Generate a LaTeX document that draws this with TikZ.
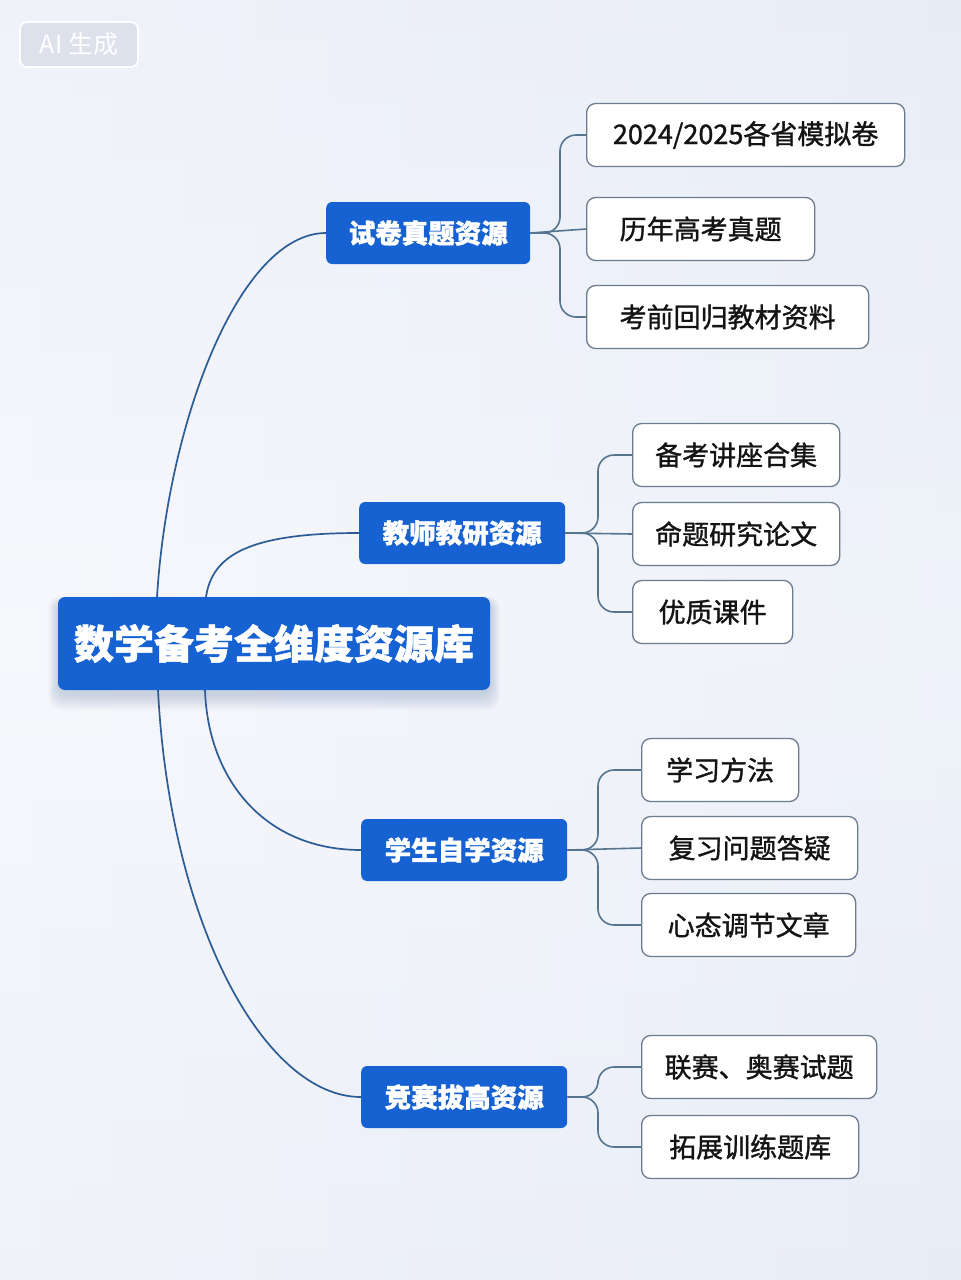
\documentclass[tikz,border=0pt]{standalone}
\usepackage{fontspec}
\setmainfont{Noto Sans CJK SC}
\newfontfamily\leaffont[FakeBold=1.2]{Noto Sans CJK SC}
\newfontfamily\heavyfont[BoldFeatures={FakeBold=1.3}]{Noto Sans CJK SC}
\definecolor{bgA}{HTML}{EBEEF8}
\definecolor{bgB}{HTML}{F7F8FC}
\definecolor{bgC}{HTML}{E4EBF6}
\definecolor{mainblue}{HTML}{1762D2}
\definecolor{linkblue}{HTML}{2C5C96}
\definecolor{leafline}{HTML}{557590}
\definecolor{leafborder}{HTML}{6C7C8E}
\definecolor{badgefill}{HTML}{DDE1EC}
\tikzset{
  x=1pt, y=-1pt,
  rootbox/.style={rectangle, rounded corners=7pt, fill=mainblue, text=white,
    font=\heavyfont\fontsize{40}{44}\selectfont\bfseries, minimum width=432pt, minimum height=93pt,
    inner sep=0pt},
  branchbox/.style={rectangle, rounded corners=6pt, fill=mainblue, text=white,
    font=\heavyfont\fontsize{26.5}{30}\selectfont\bfseries, minimum height=62pt, inner sep=0pt, anchor=west},
  leafbox/.style={rectangle, rounded corners=9pt, fill=white, draw=leafborder, line width=1.3pt,
    text=black!92, font=\leaffont\fontsize{27}{30}\selectfont, minimum height=63pt, inner sep=0pt, anchor=west},
  rootlink/.style={draw=linkblue, line width=1.7pt},
  leaflink/.style={draw=leafline, line width=1.6pt, rounded corners=16pt},
  badge/.style={rectangle, rounded corners=7pt, draw=white, line width=1.8pt, fill=badgefill,
    text=white, font=\fontsize{25}{27}\selectfont, minimum width=118pt, minimum height=45pt, inner sep=0pt},
  softshadow/.style={fill=mainblue!40!gray, rounded corners=12pt, opacity=0.035}
}
\begin{document}
\begin{tikzpicture}
\useasboundingbox (0,0) rectangle (961,1280);
\shade[left color=bgB, right color=bgC] (0,0) rectangle (961,1280);
\shade[top color=bgA, bottom color=bgA, middle color=bgB, opacity=0.55] (0,0) rectangle (961,1280);

\node[badge] (badge) at (79,44.5) {AI 生成};

% soft shadow under root
\foreach \d in {2,4,...,16} {
  \fill[softshadow] (58-\d*0.6,601-\d*0.3) rectangle (490+\d*0.6,694+\d);
}

\coordinate (r1) at (157,597);
\coordinate (r2) at (206,597);
\coordinate (r3) at (205,690);
\coordinate (r4) at (158,690);

\node[branchbox, minimum width=204pt] (b1) at (326,233) {试卷真题资源};
\node[branchbox, minimum width=206pt] (b2) at (359,533) {教师教研资源};
\node[branchbox, minimum width=206pt] (b3) at (361,850) {学生自学资源};
\node[branchbox, minimum width=206pt] (b4) at (361,1097) {竞赛拔高资源};

\path[rootlink] (r1) .. controls (168,420) and (240,233) .. (b1.west);
\path[rootlink] (r2) .. controls (212,557) and (245,533) .. (b2.west);
\path[rootlink] (r3) .. controls (208,780) and (265,850) .. (b3.west);
\path[rootlink] (r4) .. controls (170,925) and (265,1097) .. (b4.west);

\node[rootbox] (root) at (274,643.5) {数学备考全维度资源库};

% leaves
\node[leafbox, minimum width=318pt] (l1a) at (586,135) {2024/2025各省模拟卷};
\node[leafbox, minimum width=228pt] (l1b) at (586,229) {历年高考真题};
\node[leafbox, minimum width=282pt] (l1c) at (586,317) {考前回归教材资料};

\node[leafbox, minimum width=207pt] (l2a) at (632,455) {备考讲座合集};
\node[leafbox, minimum width=207pt] (l2b) at (632,534) {命题研究论文};
\node[leafbox, minimum width=160pt] (l2c) at (632,612) {优质课件};

\node[leafbox, minimum width=157pt] (l3a) at (641,770) {学习方法};
\node[leafbox, minimum width=216pt] (l3b) at (641,848) {复习问题答疑};
\node[leafbox, minimum width=214pt] (l3c) at (641,925) {心态调节文章};

\node[leafbox, minimum width=235pt] (l4a) at (641,1067) {联赛、奥赛试题};
\node[leafbox, minimum width=217pt] (l4b) at (641,1147) {拓展训练题库};

% leaf links
\path[leaflink] (b1.east) -- (560,233) -- (560,135) -- (l1a.west);
\path[leaflink] (b1.east) -- (l1b.west);
\path[leaflink] (b1.east) -- (560,233) -- (560,317) -- (l1c.west);

\path[leaflink] (b2.east) -- (598,533) -- (598,455) -- (l2a.west);
\path[leaflink] (b2.east) -- (l2b.west);
\path[leaflink] (b2.east) -- (598,533) -- (598,612) -- (l2c.west);

\path[leaflink] (b3.east) -- (598,850) -- (598,770) -- (l3a.west);
\path[leaflink] (b3.east) -- (l3b.west);
\path[leaflink] (b3.east) -- (598,850) -- (598,925) -- (l3c.west);

\path[leaflink] (b4.east) -- (598,1097) -- (598,1067) -- (l4a.west);
\path[leaflink] (b4.east) -- (598,1097) -- (598,1147) -- (l4b.west);
\end{tikzpicture}
\end{document}
